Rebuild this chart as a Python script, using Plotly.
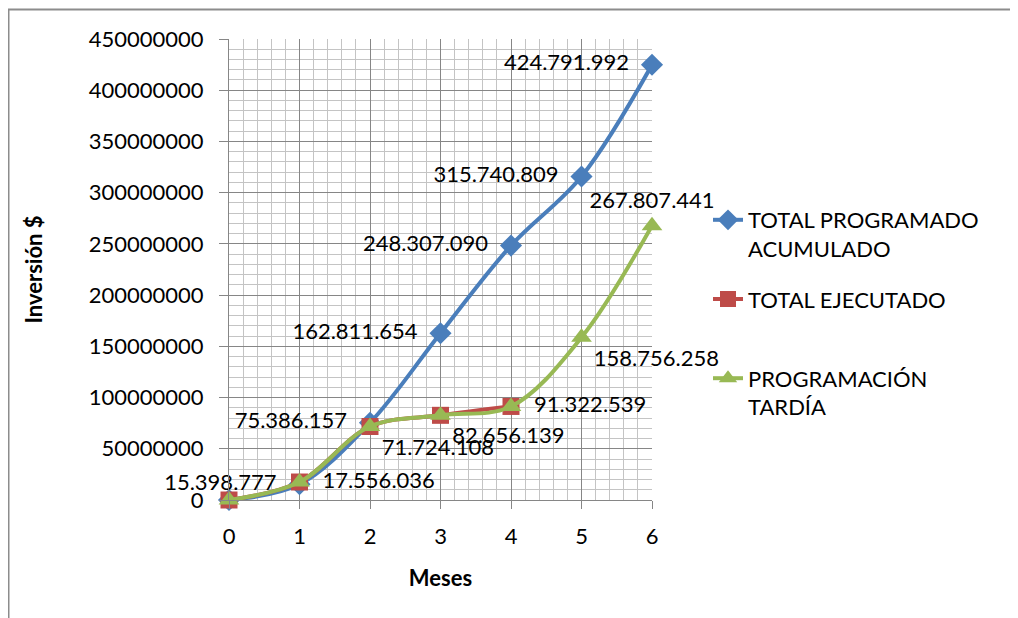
import plotly.graph_objects as go

meses = [0, 1, 2, 3, 4, 5, 6]
total_programado = [0, 15398777, 75386157, 162811654, 248307090, 315740809, 424791992]
total_ejecutado = [0, 17556036, 71724108, 82656139, 91322539]
programacion_tardia = [0, 17556036, 71724108, 82656139, 91322539, 158756258, 267807441]
y_ticks = [0, 50000000, 100000000, 150000000, 200000000, 250000000,
           300000000, 350000000, 400000000, 450000000]

FONT = "Lato"
NB = "\u00a0\u00a0"
lbl = "%{y:,d}"
lbl_l = lbl + NB
lbl_r = NB + lbl

fig = go.Figure()
fig.add_trace(go.Scatter(
    x=meses, y=total_programado, name="TOTAL PROGRAMADO<br>ACUMULADO",
    mode="lines+markers+text", line=dict(color="#4A7EBB", width=4, shape="spline", smoothing=1.0),
    marker=dict(symbol="diamond", size=17, color="#4A7EBB"),
    texttemplate=[""] + [lbl_l] * 6, textposition="middle left", cliponaxis=False,
    textfont=dict(family=FONT, size=22, color="black"), legendgroup="a"))
fig.add_trace(go.Scatter(
    x=meses[:5], y=total_ejecutado, name="TOTAL EJECUTADO<br> ",
    mode="lines+markers+text", line=dict(color="#BE4B48", width=4, shape="spline", smoothing=1.0),
    marker=dict(symbol="square", size=17, color="#BE4B48"),
    texttemplate=["", lbl_r, lbl, lbl, lbl_r],
    textposition=["middle right", "middle right", "bottom right", "bottom right", "middle right"],
    cliponaxis=False,
    textfont=dict(family=FONT, size=22, color="black"), legendgroup="b"))
fig.add_trace(go.Scatter(
    x=meses, y=programacion_tardia, name="PROGRAMACIÓN<br>TARDÍA",
    mode="lines+markers+text", line=dict(color="#98B954", width=4, shape="spline", smoothing=1.0),
    marker=dict(symbol="triangle-up", size=18, color="#98B954"),
    texttemplate=[""] * 5 + [lbl] * 2,
    textposition=["middle right"] * 5 + ["bottom right", "top center"],
    cliponaxis=False,
    textfont=dict(family=FONT, size=22, color="black"), legendgroup="c"))

OFF = 8  # page offset of the plot div
W, H = 1018 - OFF, 618 - OFF
L, T = 229 - OFF, 39 - OFF
R = W - (652 - OFF)
B = H - (500 - OFF)
pw, ph = W - L - R, H - T - B

def px(xs):
    return (xs - OFF - L) / pw

def py(ys):
    return (H - B - (ys - OFF)) / ph

fig.update_layout(
    width=W, height=H, margin=dict(l=L, r=R, t=T, b=B),
    paper_bgcolor="white", plot_bgcolor="white",
    font=dict(family=FONT, size=22, color="black"),
    separators=",.",
    showlegend=True,
    legend=dict(x=px(708), y=py(199), xanchor="left", yanchor="top",
                font=dict(family=FONT, size=22, color="black"),
                valign="top", tracegroupgap=19, bgcolor="rgba(0,0,0,0)"),
    xaxis=dict(range=[0, 6], tickvals=meses, ticks="outside", ticklen=8, tickcolor="#868686",
               showline=True, linecolor="#868686", linewidth=1,
               showgrid=True, gridcolor="#868686", gridwidth=1, zeroline=False,
               ticklabelstandoff=9,
               minor=dict(dtick=0.2, showgrid=True, gridcolor="#C4C4C4", gridwidth=1),
               title=dict(text="<b>Meses</b>", font=dict(family=FONT, size=22), standoff=22)),
    yaxis=dict(range=[0, 450000000], tickvals=y_ticks, tickformat="d", ticks="outside",
               ticklen=9, tickcolor="#868686",
               showline=True, linecolor="#868686", linewidth=1,
               showgrid=True, gridcolor="#868686", gridwidth=1, zeroline=False,
               ticklabelstandoff=11,
               minor=dict(dtick=10000000, showgrid=True, gridcolor="#C4C4C4", gridwidth=1),
               title=dict(text="<b>Inversión $</b>", font=dict(family=FONT, size=22), standoff=40)),
    shapes=[
        dict(type="line", xref="paper", yref="paper", x0=px(8), x1=px(1040), y0=py(9.5), y1=py(9.5),
             line=dict(color="#8C8C8C", width=2)),
        dict(type="line", xref="paper", yref="paper", x0=px(8.5), x1=px(8.5), y0=py(9), y1=py(640),
             line=dict(color="#8C8C8C", width=2)),
    ],
)

fig.write_html("out.html")
